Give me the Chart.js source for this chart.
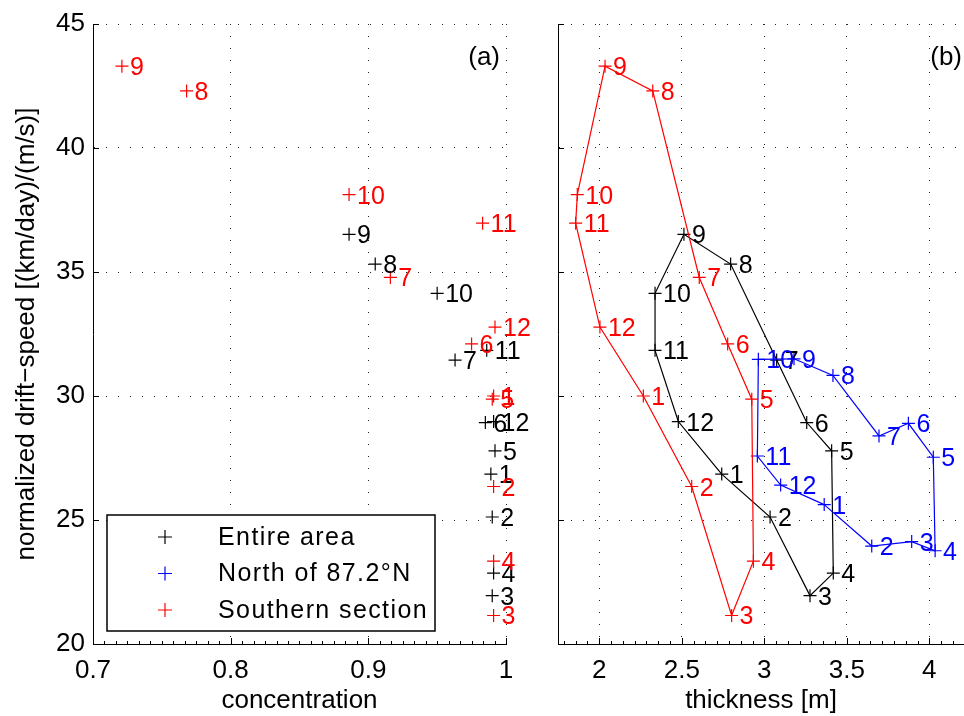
<!DOCTYPE html>
<html>
<head>
<meta charset="utf-8">
<script src="https://cdn.jsdelivr.net/npm/chart.js@4"></script>
<style>
html,body{margin:0;padding:0;background:#fff;overflow:hidden}
#wrap{position:relative;width:964px;height:716px;overflow:hidden}
canvas{position:absolute;top:0}
#ca{left:0}
#cb{left:540px}
</style>
</head>
<body>
<div id="wrap">
<canvas id="ca" width="540" height="716"></canvas>
<canvas id="cb" width="424" height="716"></canvas>
</div>
<script>
// months 1..12
const months = [1,2,3,4,5,6,7,8,9,10,11,12];

// Entire area
const entireSpeed = [26.85,25.12,21.95,22.86,27.79,28.93,31.45,35.32,36.52,34.14,31.84,28.97];
const entireConc  = [0.989,0.990,0.990,0.991,0.992,0.985,0.963,0.905,0.886,0.950,0.986,0.991];
const entireThick = [2.742,3.035,3.277,3.418,3.408,3.257,3.075,2.796,2.513,2.338,2.338,2.479];

// North of 87.2N
const northSpeed = [25.62,23.95,24.13,23.76,27.53,28.90,28.39,30.83,31.50,31.48,27.58,26.41];
const northThick = [3.363,3.651,3.893,4.035,4.024,3.873,3.695,3.416,3.180,2.964,2.958,3.099];

// Southern section
const southSpeed = [30.00,26.35,21.15,23.34,29.87,32.10,34.78,42.30,43.30,38.12,36.97,32.78];
const southConc  = [0.991,0.991,0.991,0.991,0.990,0.975,0.916,0.768,0.721,0.886,0.983,0.992];
const southThick = [2.267,2.560,2.802,2.934,2.924,2.778,2.606,2.324,2.035,1.867,1.857,2.004];

const concTicks  = [0.7,0.8,0.9,1];
const thickTicks = [2,2.5,3,3.5,4];
const speedTicks = [20,25,30,35,40,45];

const seriesNames = ["Entire area","North of 87.2\u00b0N","Southern section"];
const seriesColors = ["#000000","#0000ff","#ff0000"];

const FONT = "'Liberation Sans', Arial, Helvetica, sans-serif";

function pts(xs, ys){ return xs.map((v,i)=>({x:v, y:ys[i]})); }
function loop(xs, ys){ const p = pts(xs, ys); p.push(p[0]); return p; }

// fixed ticks + fixed limits
function fixTicks(list, lo, hi){
  return s => { s.ticks = list.map(v=>({value:v})); s.min = lo; s.max = hi; };
}

// month numbers next to each point
const monthLabels = {
  id:'monthLabels',
  afterDatasetsDraw(chart){
    const ctx = chart.ctx;
    ctx.save();
    ctx.font = '25px ' + FONT;
    ctx.textAlign = 'left';
    ctx.textBaseline = 'alphabetic';
    chart.data.datasets.forEach((ds,i)=>{
      const meta = chart.getDatasetMeta(i);
      ctx.fillStyle = ds.borderColor;
      meta.data.forEach((el,j)=>{
        if(j >= months.length) return;
        ctx.fillText(String(months[j]), el.x + 8, el.y + 9);
      });
    });
    ctx.restore();
  }
};

// inward ticks like matlab
const inTicks = {
  id:'inTicks',
  afterDraw(chart, args, opts){
    const {ctx, chartArea:a, scales:{x, y}} = chart;
    ctx.save();
    ctx.strokeStyle = '#000';
    ctx.lineWidth = 1;
    ctx.beginPath();
    x.ticks.forEach(t=>{
      const px = Math.round(x.getPixelForValue(t.value)) + 0.5;
      ctx.moveTo(px, a.bottom); ctx.lineTo(px, a.bottom - 6);
    });
    const m = opts.minorX;
    for(let v = Math.ceil(x.min/m)*m; v <= x.max + 1e-9; v += m){
      const px = Math.round(x.getPixelForValue(v)) + 0.5;
      ctx.moveTo(px, a.bottom); ctx.lineTo(px, a.bottom - 3);
    }
    y.ticks.forEach(t=>{
      const py = Math.round(y.getPixelForValue(t.value)) + 0.5;
      ctx.moveTo(a.left, py); ctx.lineTo(a.left + 6, py);
    });
    ctx.stroke();
    // panel tag
    ctx.fillStyle = '#000';
    ctx.font = '26px ' + FONT;
    ctx.textAlign = 'right';
    ctx.textBaseline = 'middle';
    ctx.fillText(opts.tag, opts.tagRight, a.top + 34);
    ctx.restore();
  }
};

// boxed legend inside panel (a)
const boxLegend = {
  id:'boxLegend',
  afterDraw(chart){
    const {ctx, chartArea:a} = chart;
    const x0 = a.left + 14, y0 = a.bottom - 129, w = 328, h = 116;
    ctx.save();
    ctx.fillStyle = '#fff';
    ctx.fillRect(x0, y0, w, h);
    ctx.strokeStyle = '#000';
    ctx.lineWidth = 1.5;
    ctx.strokeRect(x0, y0, w, h);
    ctx.font = '25px ' + FONT;
    if ('letterSpacing' in ctx) ctx.letterSpacing = '1.4px';
    ctx.textBaseline = 'middle';
    ctx.textAlign = 'left';
    seriesNames.forEach((name,i)=>{
      const cy = y0 + 22 + i*36.5;
      const cx = x0 + 58;
      ctx.strokeStyle = seriesColors[i];
      ctx.lineWidth = 1.2;
      ctx.beginPath();
      ctx.moveTo(cx - 7, cy); ctx.lineTo(cx + 7, cy);
      ctx.moveTo(cx, cy - 7); ctx.lineTo(cx, cy + 7);
      ctx.stroke();
      ctx.fillStyle = '#000';
      ctx.fillText(name, x0 + 111, cy + 1);
    });
    ctx.restore();
  }
};

function gridOpts(){
  return {color:'#222', lineWidth:1, drawTicks:false, tickLength:0};
}
function borderOpts(){
  return {display:true, color:'#000', width:1, dash:[1,11]};
}

function makeDs(i, data, line){
  return {
    label: seriesNames[i],
    data: data,
    showLine: line,
    borderColor: seriesColors[i],
    backgroundColor: seriesColors[i],
    borderWidth: 1.2,
    pointStyle: 'cross',
    pointRadius: c => c.dataIndex < months.length ? 6.5 : 0,
    pointBorderWidth: 1.2,
    order: 3 - i,
    tension: 0
  };
}

const tickFont = {family:FONT, size:26};
const titleFont = {family:FONT, size:26};

// panel (a): concentration
new Chart(document.getElementById('ca'), {
  type:'scatter',
  data:{
    datasets:[
      makeDs(0, pts(entireConc, entireSpeed), false),
      makeDs(1, [], false),
      makeDs(2, pts(southConc, southSpeed), false)
    ]
  },
  options:{
    responsive:false,
    animation:false,
    events:[],
    layout:{autoPadding:false, padding:{left:0, right:34, top:24, bottom:0}},
    plugins:{
      legend:{display:false},
      tooltip:{enabled:false},
      inTicks:{minorX:0.1/12, tag:'(a)', tagRight:500}
    },
    scales:{
      x:{
        type:'linear', min:0.7, max:1,
        afterBuildTicks: fixTicks(concTicks, 0.7, 1),
        afterFit: s => { s.height = 72; },
        grid: gridOpts(), border: borderOpts(),
        ticks:{color:'#000', font:tickFont, padding:11, maxRotation:0, callback: v => String(v)},
        title:{display:true, text:'concentration', color:'#000', font:titleFont, padding:{top:0, bottom:0}}
      },
      y:{
        type:'linear', min:20, max:45,
        afterBuildTicks: fixTicks(speedTicks, 20, 45),
        afterFit: s => { s.width = 93; },
        grid: gridOpts(), border: borderOpts(),
        ticks:{color:'#000', font:tickFont, padding:8, callback: v => String(v)},
        title:{display:true, text:'normalized drift\u2212speed [(km/day)/(m/s)]', color:'#000', font:titleFont, padding:{top:11, bottom:0}}
      }
    }
  },
  plugins:[inTicks, monthLabels, boxLegend]
});

// panel (b): thickness
new Chart(document.getElementById('cb'), {
  type:'scatter',
  data:{
    datasets:[
      makeDs(0, loop(entireThick, entireSpeed), true),
      makeDs(1, loop(northThick, northSpeed), true),
      makeDs(2, loop(southThick, southSpeed), true)
    ]
  },
  options:{
    responsive:false,
    animation:false,
    events:[],
    layout:{autoPadding:false, padding:{left:0, right:0, top:24, bottom:0}},
    plugins:{
      legend:{display:false},
      tooltip:{enabled:false},
      inTicks:{minorX:0.5/7, tag:'(b)', tagRight:422}
    },
    scales:{
      x:{
        type:'linear', min:1.75, max:4.21,
        afterBuildTicks: fixTicks(thickTicks, 1.75, 4.21),
        afterFit: s => { s.height = 72; },
        grid: gridOpts(), border: borderOpts(),
        ticks:{color:'#000', font:tickFont, padding:11, maxRotation:0, callback: v => String(v)},
        title:{display:true, text:'thickness [m]', color:'#000', font:titleFont, padding:{top:0, bottom:0}}
      },
      y:{
        type:'linear', min:20, max:45,
        afterBuildTicks: fixTicks(speedTicks, 20, 45),
        afterFit: s => { s.width = 18; },
        grid: gridOpts(), border: borderOpts(),
        ticks:{display:false}
      }
    }
  },
  plugins:[inTicks, monthLabels]
});
</script>
</body>
</html>
